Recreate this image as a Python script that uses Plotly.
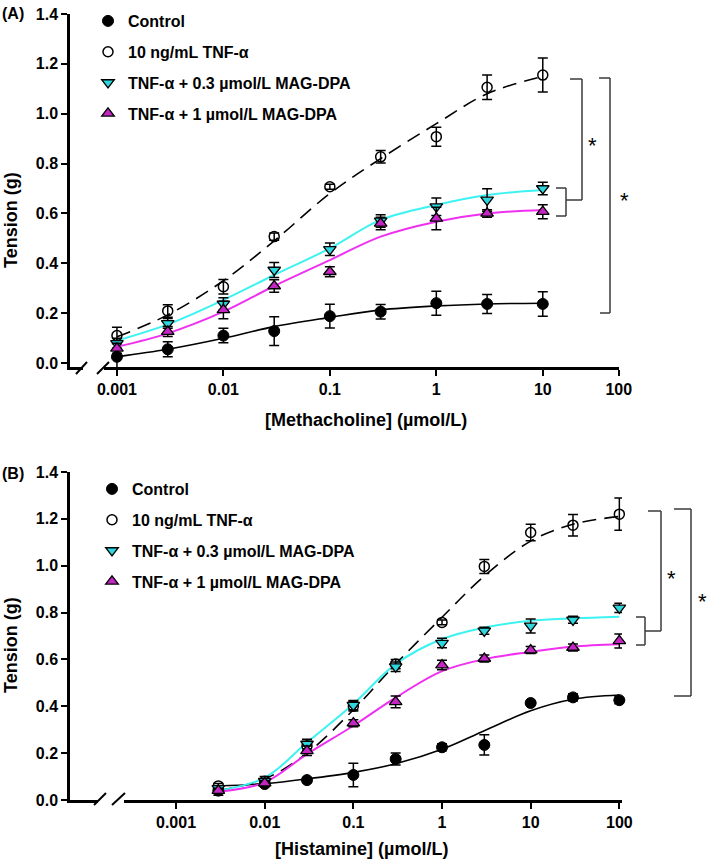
import plotly.graph_objects as go

W, H = 709, 861

# ---------------- data ----------------
conc_A = [0.001, 0.003, 0.01, 0.03, 0.1, 0.3, 1, 3, 10]
control_A = [0.025, 0.055, 0.11, 0.128, 0.188, 0.206, 0.24, 0.237, 0.237]
control_A_err = [0.055, 0.03, 0.029, 0.058, 0.048, 0.029, 0.048, 0.038, 0.049]
tnf_A = [0.11, 0.209, 0.306, 0.507, 0.707, 0.827, 0.908, 1.106, 1.155]
tnf_A_err = [0.033, 0.025, 0.029, 0.015, 0.01, 0.025, 0.038, 0.049, 0.068]
mag03_A = [0.079, 0.159, 0.237, 0.373, 0.456, 0.57, 0.627, 0.654, 0.70]
mag03_A_err = [0.02, 0.02, 0.025, 0.03, 0.025, 0.025, 0.035, 0.045, 0.025]
mag1_A = [0.059, 0.126, 0.213, 0.309, 0.366, 0.56, 0.58, 0.60, 0.607]
mag1_A_err = [0.02, 0.02, 0.035, 0.025, 0.02, 0.025, 0.045, 0.015, 0.028]

# fitted curves (at the same concentrations)
control_A_fit = [0.025, 0.055, 0.099, 0.146, 0.183, 0.213, 0.229, 0.237, 0.24]
tnf_A_fit = [0.105, 0.193, 0.33, 0.49, 0.68, 0.82, 0.96, 1.08, 1.15]
mag03_A_fit = [0.09, 0.155, 0.253, 0.353, 0.46, 0.574, 0.634, 0.674, 0.694]
mag1_A_fit = [0.065, 0.119, 0.206, 0.309, 0.413, 0.507, 0.567, 0.60, 0.614]

conc_B = [0.003, 0.01, 0.03, 0.1, 0.3, 1, 3, 10, 30, 100]
control_B = [0.04, 0.068, 0.085, 0.107, 0.175, 0.225, 0.235, 0.414, 0.438, 0.426]
control_B_err = [0.02, 0.01, 0.01, 0.05, 0.026, 0.015, 0.043, 0.0, 0.015, 0.015]
tnf_B = [0.06, 0.08, 0.23, 0.40, 0.58, 0.758, 0.997, 1.142, 1.173, 1.22]
tnf_B_err = [0.01, 0.01, 0.02, 0.02, 0.02, 0.01, 0.03, 0.035, 0.046, 0.069]
mag03_B = [0.05, 0.08, 0.239, 0.405, 0.569, 0.67, 0.722, 0.743, 0.769, 0.82]
mag03_B_err = [0.01, 0.02, 0.02, 0.02, 0.02, 0.02, 0.015, 0.03, 0.015, 0.02]
mag1_B = [0.04, 0.072, 0.21, 0.328, 0.419, 0.576, 0.604, 0.64, 0.651, 0.679]
mag1_B_err = [0.01, 0.01, 0.02, 0.015, 0.025, 0.02, 0.015, 0.015, 0.015, 0.03]

control_B_fit = [0.06, 0.07, 0.09, 0.118, 0.155, 0.217, 0.296, 0.381, 0.43, 0.448]
tnf_B_fit = [0.04, 0.09, 0.2, 0.385, 0.58, 0.78, 0.956, 1.105, 1.177, 1.21]
mag03_B_fit = [0.04, 0.095, 0.245, 0.41, 0.58, 0.687, 0.736, 0.765, 0.775, 0.782]
mag1_B_fit = [0.035, 0.075, 0.196, 0.317, 0.437, 0.55, 0.601, 0.632, 0.655, 0.665]

series_names = ["Control", "10 ng/mL TNF-α",
                "TNF-α + 0.3 µmol/L MAG-DPA", "TNF-α + 1 µmol/L MAG-DPA"]

xticks_A = [0.001, 0.01, 0.1, 1, 10, 10 ** 1.714]
xticks_B = [0.001, 0.01, 0.1, 1, 10, 100]
xtick_text = ["0.001", "0.01", "0.1", "1", "10", "100"]
yticks = [0.0, 0.2, 0.4, 0.6, 0.8, 1.0, 1.2, 1.4]

# ---------------- styles ----------------
FONT = "Liberation Sans, Arial, sans-serif"
CYAN_LINE = "#3DF2F2"
CYAN_FILL = "#2FD6DE"
MAG_LINE = "#F030F0"
MAG_FILL = "#C426C4"

marker_styles = [
    dict(symbol="circle", size=11, color="black", line=dict(color="black", width=1)),
    dict(symbol="circle-open", size=10, color="black", line=dict(color="black", width=1.5)),
    dict(symbol="triangle-down", size=11, color=CYAN_FILL, line=dict(color="black", width=1.3)),
    dict(symbol="triangle-up", size=11, color=MAG_FILL, line=dict(color="black", width=1.3)),
]
line_styles = [
    dict(color="black", width=1.6),
    dict(color="black", width=1.6, dash="14px,8px"),
    dict(color=CYAN_LINE, width=2),
    dict(color=MAG_LINE, width=2),
]

fig = go.Figure()

panels = [
    ("x", "y", "legend", conc_A,
     [control_A, tnf_A, mag03_A, mag1_A],
     [control_A_err, tnf_A_err, mag03_A_err, mag1_A_err],
     [control_A_fit, tnf_A_fit, mag03_A_fit, mag1_A_fit]),
    ("x2", "y2", "legend2", conc_B,
     [control_B, tnf_B, mag03_B, mag1_B],
     [control_B_err, tnf_B_err, mag03_B_err, mag1_B_err],
     [control_B_fit, tnf_B_fit, mag03_B_fit, mag1_B_fit]),
]

for xa, ya, leg, xs, ys, errs, fits in panels:
    for i in range(4):
        fig.add_trace(go.Scatter(
            x=xs, y=fits[i], mode="lines", xaxis=xa, yaxis=ya,
            line=dict(shape="spline", smoothing=1.0, **line_styles[i]),
            showlegend=False, hoverinfo="skip"))
    for i in range(4):
        fig.add_trace(go.Scatter(
            x=xs, y=ys[i], mode="markers", xaxis=xa, yaxis=ya,
            name=series_names[i], legend=leg, legendgroup=f"{leg}{i}",
            marker=marker_styles[i], cliponaxis=False,
            error_y=dict(type="data", array=errs[i], color="black",
                         thickness=1.5, width=5)))


def fx(px):
    return px / W


def fy(py):
    return 1 - py / H


tickfont = dict(family=FONT, size=16, color="black", weight="bold")
axis_common = dict(showgrid=False, zeroline=False, showline=True,
                   linecolor="black", linewidth=2.5, ticks="outside",
                   ticklen=6, tickwidth=2, tickcolor="black",
                   tickfont=tickfont, automargin=False)

legend_common = dict(xanchor="left", yanchor="top",
                     font=dict(family=FONT, size=16, color="black", weight="bold"),
                     tracegroupgap=7, itemwidth=30, bgcolor="rgba(0,0,0,0)",
                     traceorder="grouped")

fig.update_layout(
    width=W, height=H,
    margin=dict(l=0, r=0, t=0, b=0, pad=0, autoexpand=False),
    paper_bgcolor="white", plot_bgcolor="white",
    font=dict(family=FONT, color="black"),
    xaxis=dict(type="log", domain=[fx(70), fx(619)], range=[-3.441, 1.716],
               anchor="y", tickvals=xticks_A, ticktext=xtick_text, **axis_common),
    yaxis=dict(domain=[fy(367), fy(14)], range=[-0.016, 1.4], anchor="x",
               tickvals=yticks, tickformat=".1f", **axis_common),
    xaxis2=dict(type="log", domain=[fx(70), fx(622)], range=[-4.196, 2.03],
                anchor="y2", tickvals=xticks_B, ticktext=xtick_text, **axis_common),
    yaxis2=dict(domain=[fy(800), fy(472)], range=[0, 1.4], anchor="x2",
                tickvals=yticks, tickformat=".1f", **axis_common),
    legend=dict(x=fx(88), y=fy(4), **legend_common),
    legend2=dict(x=fx(92), y=fy(472), **legend_common),
)

shapes = []


def seg(x0, y0, x1, y1, color="#3a3a3a", width=1.5):
    shapes.append(dict(type="line", xref="paper", yref="paper",
                       x0=fx(x0), y0=fy(y0), x1=fx(x1), y1=fy(y1),
                       line=dict(color=color, width=width), layer="above"))


def white_rect(x0, y0, x1, y1):
    shapes.append(dict(type="rect", xref="paper", yref="paper",
                       x0=fx(x0), y0=fy(y0), x1=fx(x1), y1=fy(y1),
                       fillcolor="white", line=dict(width=0), layer="above"))


# axis breaks
white_rect(83, 361, 104, 373)
seg(76, 374, 87, 362, "black", 2)
seg(97, 374, 109, 362, "black", 2)
white_rect(98, 794, 124, 806)
seg(94, 805, 106, 793, "black", 2)
seg(112, 805, 125, 793, "black", 2)

# significance brackets panel A
seg(556, 188, 566, 188); seg(566, 188, 566, 216); seg(556, 216, 566, 216)
seg(566, 200, 582, 200)
seg(570, 79, 582, 79); seg(582, 79, 582, 200)
seg(599, 78, 610, 78); seg(610, 78, 610, 313); seg(600, 313, 610, 313)
# significance brackets panel B
seg(636, 617, 645, 617); seg(645, 617, 645, 645); seg(636, 645, 645, 645)
seg(645, 631, 661, 631)
seg(648, 511, 661, 511); seg(661, 511, 661, 631)
seg(674, 509, 691, 509); seg(691, 509, 691, 696); seg(674, 696, 691, 696)

fig.update_layout(shapes=shapes)

annotations = []


def text(px, py, s, size=16, bold=True, angle=0, xanchor="center"):
    annotations.append(dict(xref="paper", yref="paper", x=fx(px), y=fy(py),
                            text=s, showarrow=False, textangle=angle,
                            xanchor=xanchor, yanchor="middle",
                            font=dict(family=FONT, size=size, color="black",
                                      weight="bold" if bold else "normal")))


text(0, 14, "(A)", 16, xanchor="left")
text(0, 473, "(B)", 16, xanchor="left")
text(366, 420, "[Methacholine] (µmol/L)", 18)
text(361, 849, "[Histamine] (µmol/L)", 18)
text(11, 220, "Tension (g)", 18, angle=-90)
text(11, 645, "Tension (g)", 18, angle=-90)
text(592, 146, "*", 22, bold=False)
text(624, 201, "*", 22, bold=False)
text(671, 578, "*", 22, bold=False)
text(702, 601, "*", 22, bold=False)

fig.update_layout(annotations=annotations)

fig.write_html("out.html",
               config={"displayModeBar": False},
               post_script="document.body.style.margin='0';"
                           "document.body.style.overflow='hidden';")
